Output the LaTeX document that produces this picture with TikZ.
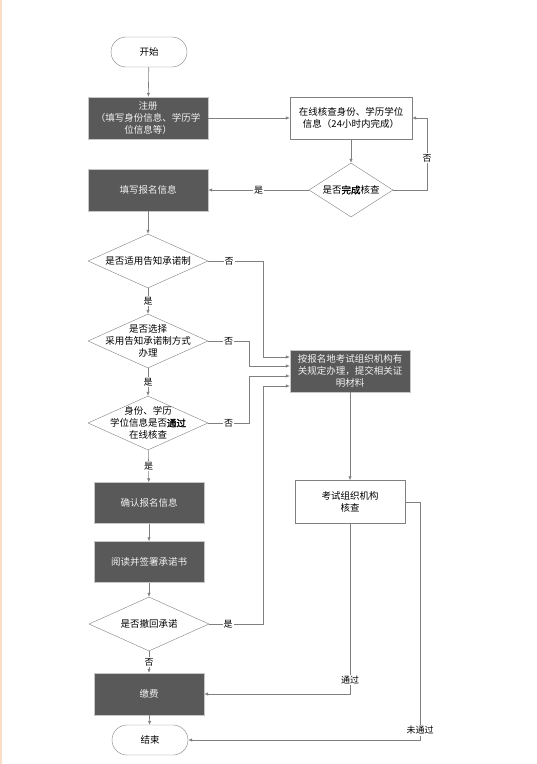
\documentclass[tikz,border=0pt]{standalone}
\usepackage{fontspec}
\setmainfont{Noto Sans CJK SC}[AutoFakeBold=1.5]
\usepackage{tikz}
\usetikzlibrary{shapes.geometric,arrows.meta}
\definecolor{boxdark}{HTML}{595959}
\definecolor{lineg}{HTML}{808080}
\definecolor{edgec}{HTML}{FBDCC4}

\begin{document}
\begin{tikzpicture}[x=1pt,y=-1pt,font=\fontsize{9.5}{12}\selectfont,
  term/.style={draw=lineg,rounded corners=15pt,minimum width=76pt,minimum height=30pt,inner sep=0pt},
  dbox/.style n args={2}{draw=gray!45,fill=boxdark,text=white!95!black,minimum width=#1pt,minimum height=#2pt,align=center,inner sep=1pt},
  wbox/.style n args={2}{draw=lineg,fill=white,minimum width=#1pt,minimum height=#2pt,align=center,inner sep=1pt},
  dec/.style={diamond,draw=lineg,minimum width=#1pt,minimum height=54pt,inner sep=0pt},
  txt/.style={align=center,inner sep=0pt},
  lbl/.style={fill=white,inner sep=1pt,font=\fontsize{9}{10}\selectfont},
  arr/.style={draw=lineg,line width=0.6pt,-{Latex[length=4pt,width=3.5pt]}}]
\useasboundingbox (0,0) rectangle (537,764);
\fill[edgec] (0,0) rectangle (2,764);

\node[term] (start) at (149,52) {开始};
\node[dbox={120}{42}] (reg) at (148,118) {注册\\（填写身份信息、学历学\\位信息等）};
\node[wbox={122}{42}] (chk) at (351,118) {在线核查身份、学历学位\\信息（24小时内完成）};
\node[dec=84, label={[txt]center:是否\textbf{完成}核查}] (dchk) at (351,190) {};
\node[dbox={120}{42}] (info) at (148,190) {填写报名信息};
\node[dec=120, label={[txt]center:是否适用告知承诺制}] (d1) at (148,261) {};
\node[dec=120, label={[txt]center:是否选择\\采用告知承诺制方式\\办理}] (d2) at (148,341) {};
\node[dec=120, label={[txt]center:身份、学历\\学位信息是否\textbf{通过}\\在线核查}] (d3) at (148,423) {};
\node[dbox={120}{42}] (alt) at (350,371) {按报名地考试组织机构有\\关规定办理，提交相关证\\明材料};
\node[dbox={110}{41}] (conf) at (149,503) {确认报名信息};
\node[dbox={110}{41}] (sign) at (149,562) {阅读并签署承诺书};
\node[dec=120, label={[txt]center:是否撤回承诺}] (d4) at (149,624) {};
\node[dbox={110}{42}] (pay) at (149,694) {缴费};
\node[wbox={110}{43}] (rev) at (350,502) {考试组织机构\\核查};
\node[term] (end) at (150,740) {结束};

\draw[arr] (start) -- (reg);
\draw[arr] (reg) -- (chk);
\draw[arr] (chk) -- (dchk);
\draw[arr] (dchk) -- node[lbl]{是} (info);
\draw[arr] (dchk.east) -| node[lbl,pos=0.72]{否} ([xshift=15pt]chk.east) -- (chk.east);
\draw[arr] (info) -- (d1);
\draw[arr] (d1) -- node[lbl]{是} (d2);
\draw[arr] (d2) -- node[lbl]{是} (d3);
\draw[arr] (d3) -- node[lbl]{是} (conf);
\draw[arr] (conf) -- (sign);
\draw[arr] (sign) -- (d4);
\draw[arr] (d4) -- node[lbl]{否} (pay);
\draw[arr] (pay) -- (end);
\draw[arr] (d1.east) -- node[lbl,pos=0.38]{否} ++(55,0) |- ([yshift=14pt]alt.west);
\draw[arr] (d2.east) -- node[lbl,pos=0.5]{否} ++(41,0) |- ([yshift=5pt]alt.west);
\draw[arr] (d3.east) -- node[lbl,pos=0.5]{否} ++(41,0) |- ([yshift=-5pt]alt.west);
\draw[arr] (d4.east) -- node[lbl,pos=0.35]{是} ++(54,0) |- ([yshift=-15pt]alt.west);
\draw[arr] (alt) -- (rev);
\draw[arr] (rev.south) |- node[lbl,pos=0.46]{通过} (pay.east);
\draw[arr] (rev.east) -- ++(15,0) |- node[lbl,pos=0.48]{未通过} (end.east);
\end{tikzpicture}
\end{document}
